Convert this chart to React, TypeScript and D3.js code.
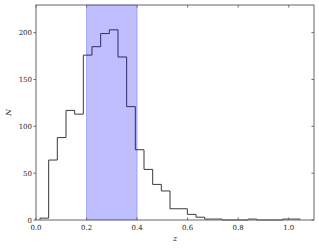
import { useEffect, useRef } from "react"
import * as d3 from "d3"

// histogram of z, 30 equal bins between the data min and max
const zMin = 0.0158
const zMax = 1.0447
const counts = [2, 64, 88, 117, 113, 176, 185, 199, 203, 174, 121, 75, 54, 38, 31, 12, 12, 6, 3, 1, 1, 0, 0, 0, 1, 0, 0, 0, 1, 1]
const span = [0.2, 0.4]
const xTicks = [0, 0.2, 0.4, 0.6, 0.8, 1.0]
const yTicks = [0, 50, 100, 150, 200]

export default function App() {
  const svgRef = useRef<SVGSVGElement>(null)

  useEffect(() => {
    if (!svgRef.current) return
    const width = 319
    const height = 249
    const margin = { top: 5, right: 5, bottom: 29, left: 36 }

    const svg = d3.select(svgRef.current)
    svg.selectAll("*").remove()

    const x = d3.scaleLinear().domain([0, 1.1]).range([margin.left, width - margin.right])
    const y = d3.scaleLinear().domain([0, 229.5]).range([height - margin.bottom, margin.top])

    const nb = counts.length
    const edges = d3.range(nb + 1).map(i => zMin + (i * (zMax - zMin)) / nb)

    // step outline
    const pts: [number, number][] = [[edges[0], 0]]
    counts.forEach((c, i) => {
      pts.push([edges[i], c])
      pts.push([edges[i + 1], c])
    })
    pts.push([edges[nb], 0])
    const line = d3.line<[number, number]>().x(d => x(d[0])).y(d => y(d[1]))

    svg.append("path")
      .attr("d", line(pts))
      .attr("fill", "none")
      .attr("stroke", "#3a3a3a")
      .attr("stroke-width", 1)

    // shaded span drawn over the outline
    svg.append("rect")
      .attr("x", x(span[0]))
      .attr("y", y.range()[1])
      .attr("width", x(span[1]) - x(span[0]))
      .attr("height", y.range()[0] - y.range()[1])
      .attr("fill", "rgba(0,0,255,0.25)")
      .attr("stroke", "rgba(0,0,255,0.25)")
      .attr("stroke-width", 1)

    const font = "'DejaVu Serif', serif"
    const axisColor = "#666"
    const x0 = margin.left, x1 = width - margin.right
    const y0 = height - margin.bottom, y1 = margin.top

    svg.append("rect")
      .attr("x", x0).attr("y", y1)
      .attr("width", x1 - x0).attr("height", y0 - y1)
      .attr("fill", "none").attr("stroke", axisColor).attr("stroke-width", 1)

    const tk = 2.5
    xTicks.forEach(t => {
      svg.append("line").attr("x1", x(t)).attr("x2", x(t)).attr("y1", y0).attr("y2", y0 - tk)
        .attr("stroke", axisColor)
      svg.append("line").attr("x1", x(t)).attr("x2", x(t)).attr("y1", y1).attr("y2", y1 + tk)
        .attr("stroke", axisColor)
      svg.append("text").attr("x", x(t)).attr("y", y0 + 9.5)
        .attr("text-anchor", "middle").attr("font-family", font).attr("font-size", 7)
        .attr("fill", "#222").text(t.toFixed(1))
    })
    yTicks.forEach(t => {
      svg.append("line").attr("x1", x0).attr("x2", x0 - tk).attr("y1", y(t)).attr("y2", y(t))
        .attr("stroke", axisColor)
      svg.append("line").attr("x1", x1).attr("x2", x1 - tk).attr("y1", y(t)).attr("y2", y(t))
        .attr("stroke", axisColor)
      svg.append("text").attr("x", x0 - 4).attr("y", y(t) + 2.5)
        .attr("text-anchor", "end").attr("font-family", font).attr("font-size", 7)
        .attr("fill", "#222").text(String(t))
    })

    svg.append("text")
      .attr("x", (x0 + x1) / 2).attr("y", y0 + 20.5)
      .attr("text-anchor", "middle").attr("font-family", font).attr("font-size", 8)
      .attr("font-style", "italic").attr("fill", "#222").text("z")

    svg.append("text")
      .attr("transform", `translate(11,${(y0 + y1) / 2}) rotate(-90)`)
      .attr("text-anchor", "middle").attr("font-family", font).attr("font-size", 8)
      .attr("font-style", "italic").attr("fill", "#222").text("N")
  }, [])

  return (
    <svg
      ref={svgRef}
      width={319}
      height={249}
      style={{ position: "absolute", left: 0, top: 0, background: "#fff" }}
    />
  )
}
